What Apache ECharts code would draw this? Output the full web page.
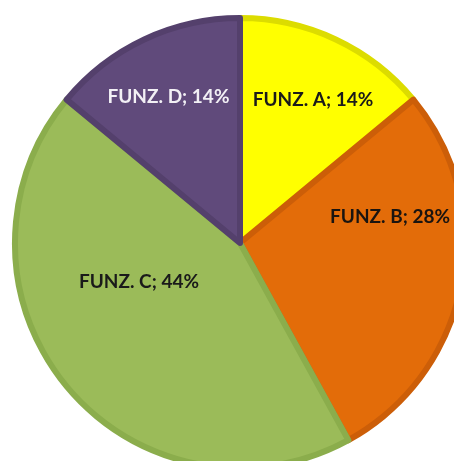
<!DOCTYPE html>
<html>
<head>
<meta charset="utf-8">
<script src="https://cdn.jsdelivr.net/npm/echarts@6/dist/echarts.min.js"></script>
<style>
  html, body { margin: 0; padding: 0; background: #ffffff; }
  #chart { width: 454px; height: 461px; }
</style>
</head>
<body>
<div id="chart"></div>
<script>
// Share of each function (percent)
const categories = ['FUNZ. A', 'FUNZ. B', 'FUNZ. C', 'FUNZ. D'];
const values = [14, 28, 44, 14];

// Slice fills, their darker rims and label colours
const fills = ['#FFFF00', '#E36C09', '#9BBB59', '#604A7B'];
const rims = ['#DCDC00', '#CC5E08', '#8BAD4C', '#54406C'];
const labelColors = ['#1a1a1a', '#1a1410', '#1a1a1a', '#F2F0F5'];

// Label anchors in polar form: angle clockwise from 12 o'clock (deg), distance as fraction of radius
const labelAnchors = [[27.0, 0.706], [80.2, 0.668], [248.9, 0.475], [333.9, 0.713]];

const center = [240, 243];
const radius = 228;

const chart = echarts.init(document.getElementById('chart'), null, { renderer: 'canvas' });

chart.setOption({
  animation: false,
  backgroundColor: '#ffffff',
  series: [{
    type: 'pie',
    center: center,
    radius: radius - 3,
    startAngle: 90,
    clockwise: true,
    avoidLabelOverlap: false,
    data: categories.map((name, i) => ({
      name: name,
      value: values[i],
      itemStyle: { color: fills[i], borderColor: rims[i] },
      label: { color: labelColors[i] }
    })),
    itemStyle: { borderWidth: 6 },
    label: {
      show: true,
      position: 'inside',
      formatter: p => p.name + '; ' + p.value + '%',
      fontFamily: 'Lato',
      fontWeight: 'bold',
      fontSize: 19
    },
    labelLine: { show: false },
    labelLayout: params => {
      const a = labelAnchors[params.dataIndex];
      const rad = a[0] * Math.PI / 180;
      return {
        x: center[0] + Math.sin(rad) * radius * a[1],
        y: center[1] - Math.cos(rad) * radius * a[1],
        align: 'center',
        verticalAlign: 'middle'
      };
    }
  }]
});
</script>
</body>
</html>
